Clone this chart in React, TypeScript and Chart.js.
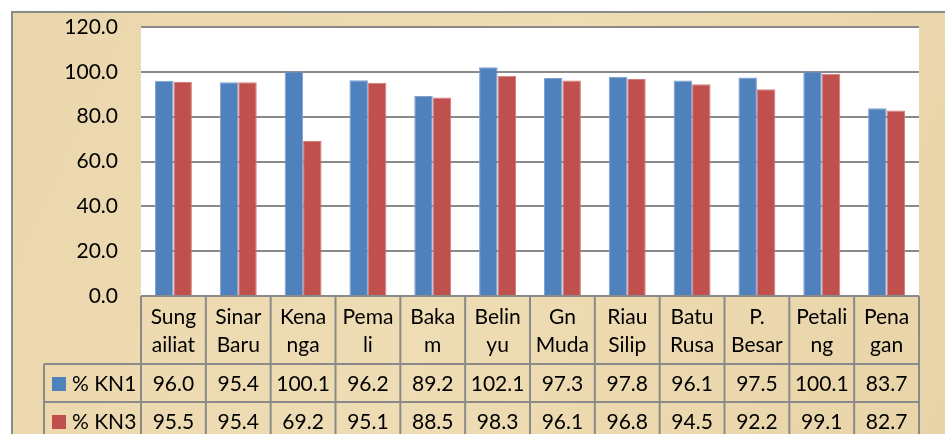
import React, { useEffect, useRef } from 'react';
import { Chart, registerables } from 'chart.js';

Chart.register(...registerables);

const categories = [
  'Sungailiat', 'Sinar Baru', 'Kenanga', 'Pemali', 'Bakam', 'Belinyu',
  'Gn Muda', 'Riau Silip', 'Batu Rusa', 'P. Besar', 'Petaling', 'Penagan',
];
const categoryLines = [
  ['Sung', 'ailiat'], ['Sinar', 'Baru'], ['Kena', 'nga'], ['Pema', 'li'],
  ['Baka', 'm'], ['Belin', 'yu'], ['Gn', 'Muda'], ['Riau', 'Silip'],
  ['Batu', 'Rusa'], ['P.', 'Besar'], ['Petali', 'ng'], ['Pena', 'gan'],
];
const seriesNames = ['% KN1', '% KN3'];
const kn1 = [96.0, 95.4, 100.1, 96.2, 89.2, 102.1, 97.3, 97.8, 96.1, 97.5, 100.1, 83.7];
const kn3 = [95.5, 95.4, 69.2, 95.1, 88.5, 98.3, 96.1, 96.8, 94.5, 92.2, 99.1, 82.7];
const seriesColors = ['#4F81BD', '#C0504D'];

const FONT = 'Lato, "DejaVu Sans", sans-serif';
const LINE = '#8A8A8A';

const backgroundPlugin = {
  id: 'bgPlugin',
  beforeDraw(chart: any) {
    const { ctx, width, height, chartArea: ca } = chart;
    ctx.save();
    ctx.fillStyle = '#ffffff';
    ctx.fillRect(0, 0, width, height);
    const g = ctx.createLinearGradient(12, 12, width, height);
    g.addColorStop(0, '#EBD7AD');
    g.addColorStop(0.5, '#EEDCB4');
    g.addColorStop(1, '#E9D4A8');
    ctx.fillStyle = g;
    ctx.fillRect(12, 12, width, height);
    ctx.strokeStyle = LINE;
    ctx.lineWidth = 2;
    ctx.beginPath();
    ctx.moveTo(12, height + 5);
    ctx.lineTo(12, 12);
    ctx.lineTo(width + 5, 12);
    ctx.stroke();
    ctx.fillStyle = '#ffffff';
    ctx.fillRect(ca.left, ca.top, ca.right - ca.left, ca.bottom - ca.top);
    ctx.restore();
  },
};

const tablePlugin = {
  id: 'tablePlugin',
  afterDraw(chart: any) {
    const { ctx, chartArea: ca, scales } = chart;
    const x = scales.x;
    const n = categories.length;
    const colW = (ca.right - ca.left) / n;
    const top = ca.bottom;
    const catRowH = 68;
    const rowH = 38;
    const legendLeft = 44;
    const rowsTop = top + catRowH;
    const bottom = rowsTop + rowH * seriesNames.length;
    ctx.save();
    ctx.strokeStyle = LINE;
    ctx.lineWidth = 2;
    ctx.beginPath();
    ctx.moveTo(ca.left, top);
    ctx.lineTo(ca.right, top);
    for (let r = 0; r <= seriesNames.length; r++) {
      const yy = rowsTop + r * rowH;
      ctx.moveTo(legendLeft, yy);
      ctx.lineTo(ca.right, yy);
    }
    for (let i = 0; i <= n; i++) {
      const xx = i < n ? x.getPixelForValue(i) - colW / 2 : x.getPixelForValue(n - 1) + colW / 2;
      ctx.moveTo(xx, top);
      ctx.lineTo(xx, bottom);
    }
    ctx.moveTo(legendLeft, rowsTop);
    ctx.lineTo(legendLeft, bottom);
    ctx.stroke();

    ctx.fillStyle = '#000000';
    ctx.font = `21px ${FONT}`;
    ctx.textAlign = 'center';
    ctx.textBaseline = 'middle';
    categoryLines.forEach((lines, i) => {
      const cx = x.getPixelForValue(i);
      lines.forEach((t, j) => {
        ctx.fillText(t, cx, top + 21 + j * 28);
      });
    });
    const data = [kn1, kn3];
    data.forEach((vals, r) => {
      const cy = rowsTop + r * rowH + rowH / 2 + 1;
      vals.forEach((v, i) => {
        ctx.fillText(v.toFixed(1), x.getPixelForValue(i), cy);
      });
      ctx.fillStyle = seriesColors[r];
      ctx.fillRect(legendLeft + 8, cy - 7, 14, 14);
      ctx.fillStyle = '#000000';
      ctx.textAlign = 'left';
      ctx.fillText(seriesNames[r], legendLeft + 28, cy);
      ctx.textAlign = 'center';
    });
    ctx.restore();
  },
};

export default function App() {
  const ref = useRef<HTMLCanvasElement | null>(null);
  useEffect(() => {
    if (!ref.current) return;
    const chart = new Chart(ref.current, {
      type: 'bar',
      data: {
        labels: categories,
        datasets: [
          { label: seriesNames[0], data: kn1, backgroundColor: seriesColors[0], borderColor: '#7EA1CF', borderWidth: 1, categoryPercentage: 0.57, barPercentage: 1 },
          { label: seriesNames[1], data: kn3, backgroundColor: seriesColors[1], borderColor: '#D47C7A', borderWidth: 1, categoryPercentage: 0.57, barPercentage: 1 },
        ],
      },
      options: {
        animation: false,
        responsive: false,
        layout: { padding: { left: 41, top: 27, right: 26, bottom: 138 } },
        plugins: { legend: { display: false }, tooltip: { enabled: false } },
        scales: {
          x: { display: false },
          y: {
            min: 0,
            max: 120,
            ticks: {
              stepSize: 20,
              padding: 23,
              color: '#000000',
              font: { family: FONT, size: 21 },
              callback: (v: any) => Number(v).toFixed(1),
            },
            grid: { color: LINE, lineWidth: 2, drawTicks: false },
            border: { display: false },
            afterFit: (s: any) => { s.width = 100; s.paddingTop = 0; s.paddingBottom = 0; },
          },
        },
      },
      plugins: [backgroundPlugin, tablePlugin],
    });
    return () => chart.destroy();
  }, []);
  return (
    <div style={{ position: 'fixed', left: 0, top: 0, width: 945, height: 434 }}>
      <canvas ref={ref} width={945} height={434} style={{ width: 945, height: 434 }} />
    </div>
  );
}
